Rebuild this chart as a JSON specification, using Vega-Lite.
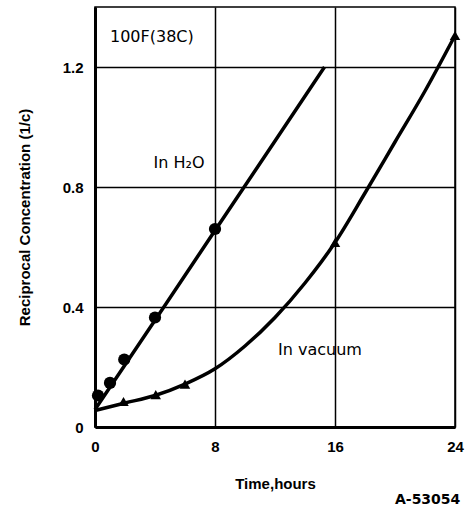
{
  "$schema": "https://vega.github.io/schema/vega-lite/v6.json",
  "width": 360,
  "height": 420,
  "autosize": {"type": "none"},
  "padding": {"left": 95, "top": 7, "right": 14, "bottom": 81},
  "background": "white",
  "title": {"text": "A-53054", "orient": "bottom", "anchor": "end", "font": "DejaVu Sans", "fontSize": 14, "fontWeight": "bold", "color": "black", "offset": 2, "dx": -3},
  "config": {
    "view": {"stroke": "black", "strokeWidth": 1.5},
    "axis": {"gridColor": "black", "gridWidth": 1.5, "gridOpacity": 1, "domainColor": "black", "domainWidth": 3, "ticks": false, "labelColor": "black", "labelFont": "Liberation Sans", "labelFontSize": 15, "labelFontWeight": "bold", "titleColor": "black", "titleFont": "Liberation Sans", "titleFontSize": 15, "titleFontWeight": "bold"}
  },
  "datasets": {
    "h2oPts": [
      {"t": 0.2, "y": 0.105},
      {"t": 1.0, "y": 0.147},
      {"t": 1.95, "y": 0.225},
      {"t": 4.0, "y": 0.365},
      {"t": 8.0, "y": 0.66}
    ],
    "h2oLine": [
      {"t": 0.0, "y": 0.058},
      {"t": 4.0, "y": 0.356},
      {"t": 8.0, "y": 0.655},
      {"t": 12.0, "y": 0.953},
      {"t": 15.3, "y": 1.2}
    ],
    "vacPts": [
      {"t": 1.9, "y": 0.085},
      {"t": 4.05, "y": 0.108},
      {"t": 6.0, "y": 0.143},
      {"t": 16.0, "y": 0.615},
      {"t": 24.0, "y": 1.305}
    ],
    "vacLine": [
      {"t": 0.0, "y": 0.055},
      {"t": 2.0, "y": 0.08},
      {"t": 4.0, "y": 0.105},
      {"t": 6.0, "y": 0.143},
      {"t": 8.0, "y": 0.194},
      {"t": 10.0, "y": 0.27},
      {"t": 12.0, "y": 0.365},
      {"t": 14.0, "y": 0.48},
      {"t": 16.0, "y": 0.615},
      {"t": 18.0, "y": 0.78},
      {"t": 20.0, "y": 0.95},
      {"t": 22.0, "y": 1.12},
      {"t": 24.0, "y": 1.305}
    ],
    "labels": [
      {"t": 1.0, "y": 1.3, "text": "100F(38C)"},
      {"t": 3.9, "y": 0.88, "text": "In H₂O"},
      {"t": 12.2, "y": 0.257, "text": "In vacuum"}
    ]
  },
  "layer": [
    {
      "data": {"name": "h2oLine"},
      "mark": {"type": "line", "color": "black", "strokeWidth": 3.5},
      "encoding": {
        "x": {"field": "t", "type": "quantitative", "scale": {"domain": [0, 24], "nice": false}, "axis": {"values": [0, 8, 16, 24], "grid": true, "title": "Time,hours", "labelPadding": 12, "titlePadding": 22, "labelFlush": false}},
        "y": {"field": "y", "type": "quantitative", "scale": {"domain": [0, 1.4], "nice": false}, "axis": {"values": [0, 0.4, 0.8, 1.2], "grid": true, "title": "Reciprocal Concentration (1/c)", "labelPadding": 12, "titlePadding": 30, "format": ".1~f"}}
      }
    },
    {
      "data": {"name": "vacLine"},
      "mark": {"type": "line", "color": "black", "strokeWidth": 3.5, "interpolate": "monotone"},
      "encoding": {
        "x": {"field": "t", "type": "quantitative"},
        "y": {"field": "y", "type": "quantitative"}
      }
    },
    {
      "data": {"name": "h2oPts"},
      "mark": {"type": "point", "shape": "circle", "filled": true, "color": "black", "opacity": 1, "size": 150},
      "encoding": {
        "x": {"field": "t", "type": "quantitative"},
        "y": {"field": "y", "type": "quantitative"}
      }
    },
    {
      "data": {"name": "vacPts"},
      "mark": {"type": "point", "shape": "triangle-up", "filled": true, "color": "black", "opacity": 1, "size": 110, "clip": false},
      "encoding": {
        "x": {"field": "t", "type": "quantitative"},
        "y": {"field": "y", "type": "quantitative"}
      }
    },
    {
      "data": {"name": "labels"},
      "mark": {"type": "text", "align": "left", "baseline": "middle", "font": "DejaVu Sans", "fontSize": 16, "color": "black"},
      "encoding": {
        "x": {"field": "t", "type": "quantitative"},
        "y": {"field": "y", "type": "quantitative"},
        "text": {"field": "text"}
      }
    }
  ]
}
